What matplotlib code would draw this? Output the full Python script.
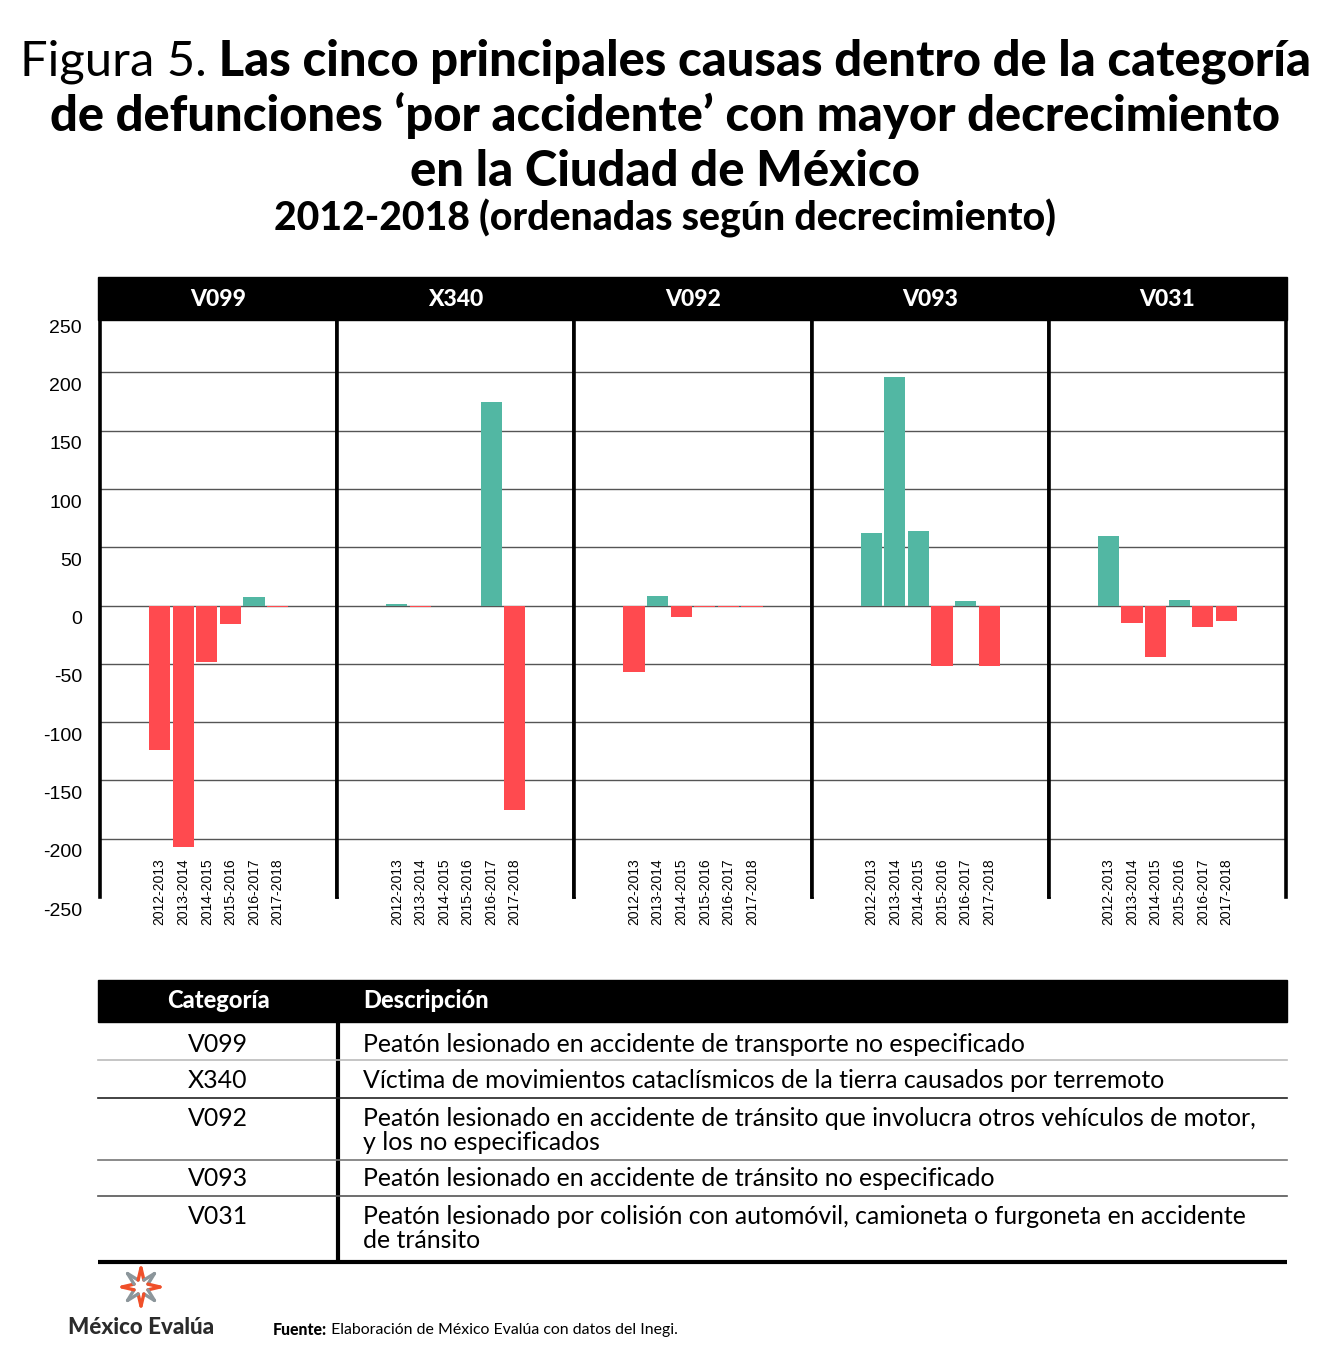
import numpy as np
import matplotlib
matplotlib.use("Agg")
import matplotlib.pyplot as plt
from matplotlib.transforms import ScaledTranslation, blended_transform_factory
from matplotlib.patches import Rectangle

# data
periods = ["2012-2013", "2013-2014", "2014-2015", "2015-2016", "2016-2017", "2017-2018"]
causes = ["V099", "X340", "V092", "V093", "V031"]
v099 = [-124, -207, -48, -16, 7, -1]
x340 = [1, -1, 0, 0, 175, -175]
v092 = [-57, 8, -10, -1, -1, -1]
v093 = [62, 196, 64, -52, 4, -52]
v031 = [60, -15, -44, 5, -18, -13]
series = [v099, x340, v092, v093, v031]

y_ticks = [250, 200, 150, 100, 50, 0, -50, -100, -150, -200, -250]
grid_vals = [200, 150, 100, 50, 0, -50, -100, -150, -200]

descriptions = [
    ["Peatón lesionado en accidente de transporte no especificado"],
    ["Víctima de movimientos cataclísmicos de la tierra causados por terremoto"],
    ["Peatón lesionado en accidente de tránsito que involucra otros vehículos de motor,",
     "y los no especificados"],
    ["Peatón lesionado en accidente de tránsito no especificado"],
    ["Peatón lesionado por colisión con automóvil, camioneta o furgoneta en accidente",
     "de tránsito"],
]

TEAL = "#52b7a3"
RED = "#ff4a4f"
W, H = 1334, 1362
DPI = 100
HEAD = "Lato"
TICKF = "Liberation Sans"
HEAVY = 900

fig = plt.figure(figsize=(W / DPI, H / DPI), dpi=DPI)
fig.patch.set_facecolor("white")


def px_box(x0, y0, x1, y1):
    # pixel box (top-down) -> figure fractions
    return [x0 / W, 1 - y1 / H, (x1 - x0) / W, (y1 - y0) / H]


# panels
panel_left = 100
panel_w = 237.2
axes = []
for i, (name, vals) in enumerate(zip(causes, series)):
    x0 = panel_left + i * panel_w
    ax = fig.add_axes(px_box(x0, 320, x0 + panel_w, 897),
                      sharey=axes[0] if axes else None)
    axes.append(ax)
    xs = np.arange(len(periods))
    cols = [TEAL if v >= 0 else RED for v in vals]
    for gy in grid_vals:
        ax.axhline(gy, color="#555555", lw=1.0, zorder=0)
    ax.bar(xs, vals, width=0.9, color=cols, zorder=2)
    ax.set_xlim(-2.53, 7.53)
    ax.set_ylim(-250, 245)
    ax.set_xticks(xs)
    ax.set_xticklabels(periods, rotation=90, fontsize=10, family=TICKF)
    ax.tick_params(axis="x", length=0, pad=-28)
    ax.set_yticks([])
    for s in ["top", "bottom"]:
        ax.spines[s].set_visible(False)
    for s in ["left", "right"]:
        ax.spines[s].set_linewidth(2.6)
        ax.spines[s].set_color("black")

# y labels sit a little below their value, as in the original
ax = axes[0]
off = ScaledTranslation(-0.18, -0.14, fig.dpi_scale_trans)
ytrans = blended_transform_factory(ax.transAxes, ax.transData) + off
for v in y_ticks:
    ax.text(0, v, str(v), transform=ytrans, ha="right", va="center",
            fontsize=14, family=TICKF, clip_on=False)

# overlay in pixel coordinates
ov = fig.add_axes([0, 0, 1, 1], zorder=5)
ov.set_xlim(0, W)
ov.set_ylim(H, 0)
ov.axis("off")
ov.patch.set_alpha(0)

renderer = fig.canvas.get_renderer()


def width_of(t):
    return t.get_window_extent(renderer).width


def fit(t, target):
    t.set_fontsize(t.get_fontsize() * target / width_of(t))
    return t


# title
t1a = ov.text(20, 76, "Figura 5.", fontsize=30, family=HEAD, ha="left", va="baseline")
t1b = ov.text(20, 76, " Las cinco principales causas dentro de la categoría", fontsize=30,
              family=HEAD, weight=HEAVY, ha="left", va="baseline")
scale = 1290 / (width_of(t1a) + width_of(t1b))
t1a.set_fontsize(30 * scale)
t1b.set_fontsize(30 * scale)
t1b.set_x(20 + width_of(t1a))
fit(ov.text(665, 131, "de defunciones ‘por accidente’ con mayor decrecimiento", fontsize=30,
            family=HEAD, weight=HEAVY, ha="center", va="baseline"), 1230)
fit(ov.text(665, 186, "en la Ciudad de México", fontsize=30,
            family=HEAD, weight=HEAVY, ha="center", va="baseline"), 509)
fit(ov.text(665, 231, "2012-2018 (ordenadas según decrecimiento)", fontsize=24,
            family=HEAD, weight=HEAVY, ha="center", va="baseline"), 784)

# facet strip
ov.add_patch(Rectangle((98, 277), 1189, 43, color="black", zorder=1))
for i, name in enumerate(causes):
    cx = panel_left + (i + 0.5) * panel_w
    ov.text(cx, 299, name, color="white", fontsize=16.5, family=HEAD, weight=HEAVY,
            ha="center", va="center")

# table
ov.add_patch(Rectangle((98, 980), 1189, 42, color="black", zorder=1))
ov.text(218, 1001, "Categoría", color="white", fontsize=17, family=HEAD, weight=HEAVY,
        ha="center", va="center")
ov.text(363, 1001, "Descripción", color="white", fontsize=17, family=HEAD, weight=HEAVY,
        ha="left", va="center")
ov.plot([338, 338], [980, 1262], color="black", lw=3, solid_capstyle="butt")
ov.plot([98, 1287], [1262, 1262], color="black", lw=3, solid_capstyle="butt")

row_first = [1044, 1081, 1118, 1179, 1217]
seps = [(1060, "#bbbbbb"), (1098, "#222222"), (1160, "#777777"), (1196, "#555555")]
for yy, c in seps:
    ov.plot([98, 1287], [yy, yy], color=c, lw=1.2)

probe = ov.text(363, 0, descriptions[0][0], fontsize=16, family=HEAD)
desc_size = fit(probe, 667).get_fontsize()
probe.remove()
for cat, lines, y0 in zip(causes, descriptions, row_first):
    ov.text(218, y0, cat, fontsize=desc_size, family=HEAD, ha="center", va="center")
    for k, line in enumerate(lines):
        ov.text(363, y0 + k * 24, line, fontsize=desc_size, family=HEAD,
                ha="left", va="center")

# footer logo: hollow eight-point star
cx, cy = 141, 1287
ang = np.pi / 2 - np.arange(16) * np.pi / 8
rad = np.where(np.arange(16) % 2 == 0, 19, 7.5)
px = cx + rad * np.cos(ang)
py = cy - rad * np.sin(ang)
for k in range(16):
    outer = k if k % 2 == 0 else (k + 1) % 16
    col = "#f0502a" if (outer // 2) % 2 == 0 else "#8c969b"
    ov.plot([px[k], px[(k + 1) % 16]], [py[k], py[(k + 1) % 16]], color=col, lw=2.4,
            solid_capstyle="round")
fit(ov.text(68, 1327, "México Evalúa", fontsize=15, family=HEAD, weight=HEAVY,
            color="#2b2b2b", ha="left", va="center"), 147)

fa = ov.text(273, 1330, "Fuente:", fontsize=10.5, family=HEAD, weight=HEAVY,
             ha="left", va="center")
fb = ov.text(273, 1330, " Elaboración de México Evalúa con datos del Inegi.", fontsize=10.5,
             family=HEAD, ha="left", va="center")
s = 409 / (width_of(fa) + width_of(fb))
fa.set_fontsize(10.5 * s)
fb.set_fontsize(10.5 * s)
fb.set_x(273 + width_of(fa))

fig.savefig("out.png", dpi=DPI)
